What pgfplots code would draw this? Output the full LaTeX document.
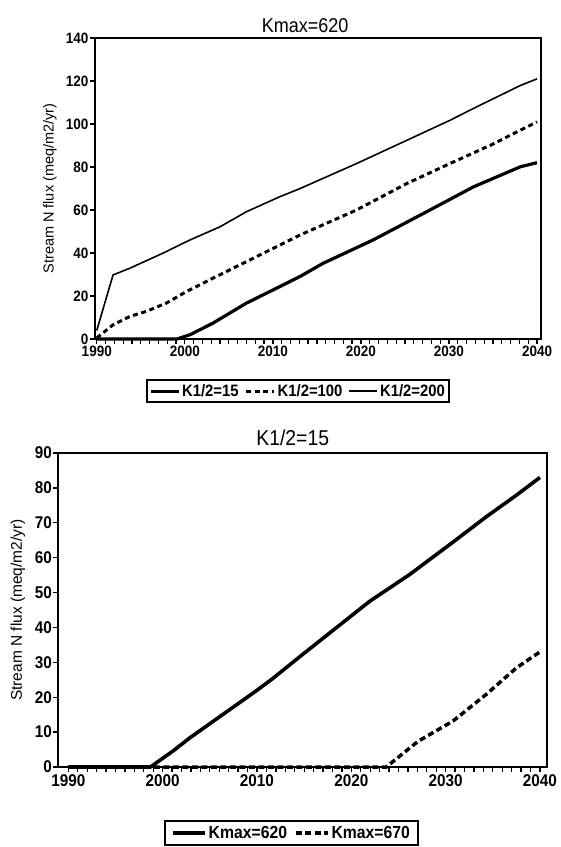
\documentclass[border=0pt]{standalone}
\usepackage{fontspec}
\setmainfont{Liberation Sans}[FakeStretch=0.9]
\newfontfamily\labelfont{Liberation Sans}
\usepackage{pgfplots}
\usepackage{pgfplotstable}
\pgfplotsset{compat=1.18}

% Stream N flux (meq/m2/yr), Kmax = 620, three half-saturation constants
\pgfplotstableread{
year flux
1990    0
1999.1  0
2000.6  2.0
2003.2  7.4
2007.0  16.7
2010.8  24.4
2013.1  29.1
2015.7  35.2
2021.4  46.1
2027.1  58.4
2032.8  70.8
2038.1  80.1
2040    82
}\khalfA
\pgfplotstableread{
year flux
1990    0.5
1991.85 6.6
1993.75 10.5
1995.6  12.8
1997.9  16.7
2000.2  22.1
2003.2  28.3
2007.0  36.0
2010.8  43.7
2013.1  48.4
2019.5  60.0
2025.2  72.3
2030.1  81.6
2034.7  90.1
2038.1  97.1
2040    101
}\khalfB
\pgfplotstableread{
year flux
1990    4
1991.85 29.8
1993.75 32.9
1997.5  39.9
2000.6  46.1
2004.0  52.2
2007.0  59.2
2010.8  66.2
2013.1  70.0
2019.5  81.6
2025.2  92.4
2030.1  101.7
2033.1  107.9
2038.1  117.9
2040    121
}\khalfC

% K1/2 = 15, two values of Kmax
\pgfplotstableread{
year flux
1990    0
1998.7  0
2001.1  4.6
2002.9  8.4
2006.4  15.1
2009.9  21.8
2011.5  25.0
2014.9  32.4
2018.4  39.9
2021.95 47.5
2026.2  55.2
2030.8  64.5
2034.3  71.7
2037.5  77.9
2040    83
}\kmaxA
\pgfplotstableread{
year flux
1990    0
2023.7  0
2027.1  7.4
2030.8  13.2
2034.3  20.8
2037.5  28.4
2040    33
}\kmaxB

% yearly tick marks hanging below each time axis (lengths in data units)
\pgfplotstableread{
year top bot
1990 -2.4 -1.5
1991 -2.4 -1.5
1992 -2.4 -1.5
1993 -2.4 -1.5
1994 -2.4 -1.5
1995 -2.4 -1.5
1996 -2.4 -1.5
1997 -2.4 -1.5
1998 -2.4 -1.5
1999 -2.4 -1.5
2000 -2.4 -1.5
2001 -2.4 -1.5
2002 -2.4 -1.5
2003 -2.4 -1.5
2004 -2.4 -1.5
2005 -2.4 -1.5
2006 -2.4 -1.5
2007 -2.4 -1.5
2008 -2.4 -1.5
2009 -2.4 -1.5
2010 -2.4 -1.5
2011 -2.4 -1.5
2012 -2.4 -1.5
2013 -2.4 -1.5
2014 -2.4 -1.5
2015 -2.4 -1.5
2016 -2.4 -1.5
2017 -2.4 -1.5
2018 -2.4 -1.5
2019 -2.4 -1.5
2020 -2.4 -1.5
2021 -2.4 -1.5
2022 -2.4 -1.5
2023 -2.4 -1.5
2024 -2.4 -1.5
2025 -2.4 -1.5
2026 -2.4 -1.5
2027 -2.4 -1.5
2028 -2.4 -1.5
2029 -2.4 -1.5
2030 -2.4 -1.5
2031 -2.4 -1.5
2032 -2.4 -1.5
2033 -2.4 -1.5
2034 -2.4 -1.5
2035 -2.4 -1.5
2036 -2.4 -1.5
2037 -2.4 -1.5
2038 -2.4 -1.5
2039 -2.4 -1.5
2040 -2.4 -1.5
}\years

\pgfplotsset{
  fluxaxis/.style={
    scale only axis,
    clip=false,
    axis line style={line width=2pt},
    tick pos=left,
    tick align=outside,
    major tick length=5pt,
    every tick/.style={black, line width=1.3pt},
    xtick={1990,2000,...,2040},
    /pgf/number format/1000 sep={},
    /pgf/number format/assume math mode=true,
    legend columns=-1,
    every axis title/.style={anchor=center},
    every axis y label/.style={rotate=90, anchor=center},
  },
  yearcomb/.style={ycomb, no marks, black, line width=1.3pt, forget plot},
}

\begin{document}
\begin{tikzpicture}
\useasboundingbox (0pt,0pt) rectangle (561pt,-847pt);

\begin{axis}[fluxaxis,
  at={(95pt,-339pt)}, anchor=south west,
  width=446pt, height=301pt,
  xmin=1989.8, xmax=2040.45, ymin=0, ymax=140,
  ytick={0,20,...,140},
  tick label style={font=\fontsize{15}{15}\selectfont\bfseries},
  xticklabel style={inner sep=1pt, yshift=-0.5pt},
  yticklabel style={inner sep=1.5pt},
  title={Kmax=620},
  title style={at={(axis description cs:0.471,1.04)}, font=\fontsize{20}{20}\selectfont},
  ylabel={\labelfont\fontsize{14.5}{14.5}\selectfont Stream N flux (meq/m2/yr)},
  ylabel style={at={(axis description cs:-0.101,0.5)}},
  legend image code/.code={\draw[#1] (0pt,0pt) -- (28pt,0pt);},
  legend style={at={(axis description cs:0.455,-0.133)}, anchor=north,
    draw=black, line width=2pt, inner xsep=2pt, inner ysep=2.5pt,
    font=\fontsize{16.5}{16.5}\selectfont\bfseries,
    /tikz/every even column/.append style={column sep=4pt}},
]
\addplot[yearcomb] table[x=year, y=top] {\years};
\addplot[black, line width=3.2pt, line join=round] table[x=year,y=flux] {\khalfA};
\addlegendentry{K1/2=15}
\addplot[black, line width=3pt, dash pattern=on 5pt off 3.6pt] table[x=year,y=flux] {\khalfB};
\addlegendentry{K1/2=100}
\addplot[black, line width=1.6pt, line join=round] table[x=year,y=flux] {\khalfC};
\addlegendentry{K1/2=200}
\end{axis}

\begin{axis}[fluxaxis,
  at={(58pt,-767pt)}, anchor=south west,
  width=489pt, height=314pt,
  xmin=1988.9, xmax=2040.75, ymin=0, ymax=90,
  ytick={0,10,...,90},
  tick label style={font=\fontsize{17}{17}\selectfont\bfseries},
  xticklabel style={inner sep=1pt, yshift=-1.5pt},
  yticklabel style={inner sep=1pt},
  title={K1/2=15},
  title style={at={(axis description cs:0.48,1.048)}, font=\fontsize{21.5}{21.5}\selectfont},
  ylabel={\labelfont\fontsize{15.5}{15.5}\selectfont Stream N flux (meq/m2/yr)},
  ylabel style={at={(axis description cs:-0.082,0.5)}},
  legend image code/.code={\draw[#1] (0pt,0pt) -- (32pt,0pt);},
  legend style={at={(axis description cs:0.4775,-0.169)}, anchor=north,
    draw=black, line width=2pt, inner xsep=6pt, inner ysep=3pt,
    font=\fontsize{17.5}{17.5}\selectfont\bfseries,
    /tikz/every even column/.append style={column sep=5pt}},
]
\addplot[yearcomb] table[x=year, y=bot] {\years};
\addplot[black, line width=3.6pt, line join=round] table[x=year,y=flux] {\kmaxA};
\addlegendentry{Kmax=620}
\addplot[black, line width=3.5pt, dash pattern=on 6pt off 3.5pt] table[x=year,y=flux] {\kmaxB};
\addlegendentry{Kmax=670}
\end{axis}
\end{tikzpicture}
\end{document}
